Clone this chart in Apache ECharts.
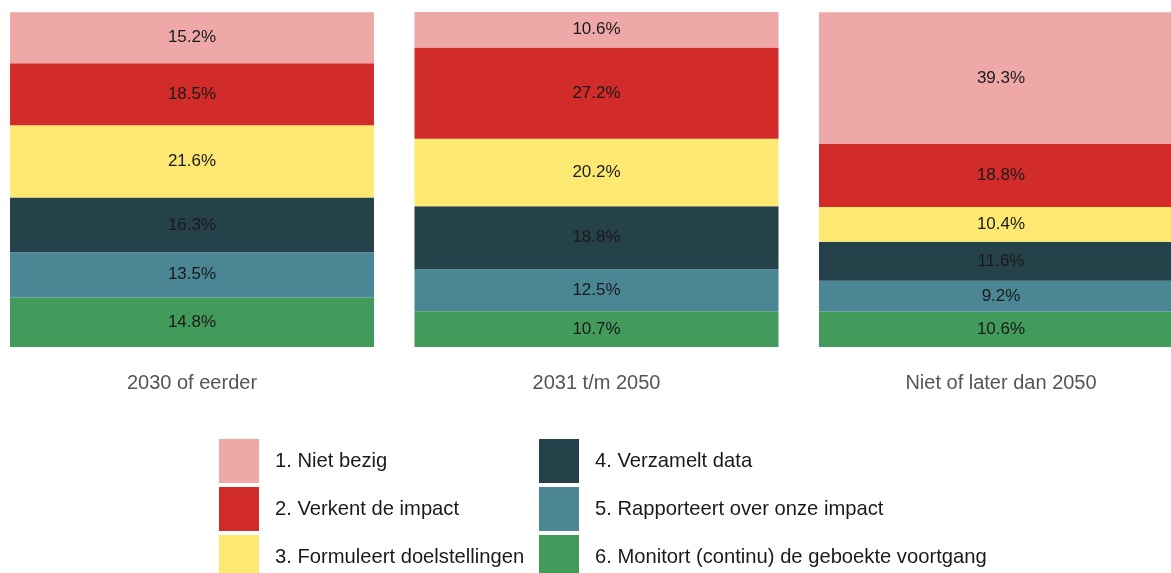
<!DOCTYPE html>
<html>
<head>
<meta charset="utf-8">
<script src="https://cdn.jsdelivr.net/npm/echarts@6/dist/echarts.min.js"></script>
<style>
	html, body { margin: 0; padding: 0; background: #fff; }
	#box { width: 1171px; height: 573px; }
</style>
</head>
<body>
<div id="box"></div>
<script>
	// categorieën (x-as)
	var categories = ['2030 of eerder', '2031 t/m 2050', 'Niet of later dan 2050'];

	// namen van de fasen, in legendavolgorde
	var phases = [
		'1. Niet bezig',
		'2. Verkent de impact',
		'3. Formuleert doelstellingen',
		'4. Verzamelt data',
		'5. Rapporteert over onze impact',
		'6. Monitort (continu) de geboekte voortgang'
	];

	// percentages per fase, per categorie
	var nietBezig = [15.2, 10.6, 39.3];
	var verkent = [18.5, 27.2, 18.8];
	var formuleert = [21.6, 20.2, 10.4];
	var verzamelt = [16.3, 18.8, 11.6];
	var rapporteert = [13.5, 12.5, 9.2];
	var monitort = [14.8, 10.7, 10.6];

	var colors = ['#EEA8A8', '#D12B2A', '#FDE972', '#25424A', '#4A8694', '#429A5B'];

	var values = [nietBezig, verkent, formuleert, verzamelt, rapporteert, monitort];

	var myChart = echarts.init(document.getElementById('box'));

	// stapel van onder naar boven: 6 eerst
	var series = [];
	for (var i = values.length - 1; i >= 0; i--) {
		series.push({
			name: phases[i],
			type: 'bar',
			stack: 'totaal',
			barWidth: 364,
			clip: false,
			itemStyle: { color: colors[i] },
			label: {
				show: true,
				position: 'inside',
				color: '#1a1a1a',
				fontSize: 17,
				fontFamily: 'Liberation Sans, Arial, sans-serif',
				formatter: function (p) { return p.value.toFixed(1) + '%'; }
			},
			data: values[i]
		});
	}

	var legendText = {
		color: '#1a1a1a',
		fontSize: 20.2,
		fontFamily: 'Liberation Sans, Arial, sans-serif',
		padding: [0, 0, 0, 11]
	};

	var option = {
		animation: false,
		textStyle: { fontFamily: 'Liberation Sans, Arial, sans-serif' },
		// categorieën op de ticks, zodat de balken op 192 / 596.5 / 1001 staan
		grid: { left: 192, right: 170, top: 12, bottom: 226, outerBoundsMode: 'none' },
		legend: [{
			orient: 'vertical',
			left: 219,
			top: 439,
			height: 160,
			padding: 0,
			icon: 'rect',
			itemWidth: 40,
			itemHeight: 44,
			itemGap: 4,
			selectedMode: false,
			textStyle: legendText,
			data: phases.slice(0, 3)
		}, {
			orient: 'vertical',
			left: 539,
			top: 439,
			height: 160,
			padding: 0,
			icon: 'rect',
			itemWidth: 40,
			itemHeight: 44,
			itemGap: 4,
			selectedMode: false,
			textStyle: legendText,
			data: phases.slice(3)
		}],
		xAxis: {
			type: 'category',
			data: categories,
			boundaryGap: false,
			axisLine: { show: false },
			axisTick: { show: false },
			axisLabel: {
				color: '#555',
				fontSize: 20,
				margin: 26,
				fontFamily: 'Liberation Sans, Arial, sans-serif'
			}
		},
		yAxis: {
			type: 'value',
			min: 0,
			max: 100,
			show: false,
			splitLine: { show: false }
		},
		series: series
	};

	myChart.setOption(option);
</script>
</body>
</html>
